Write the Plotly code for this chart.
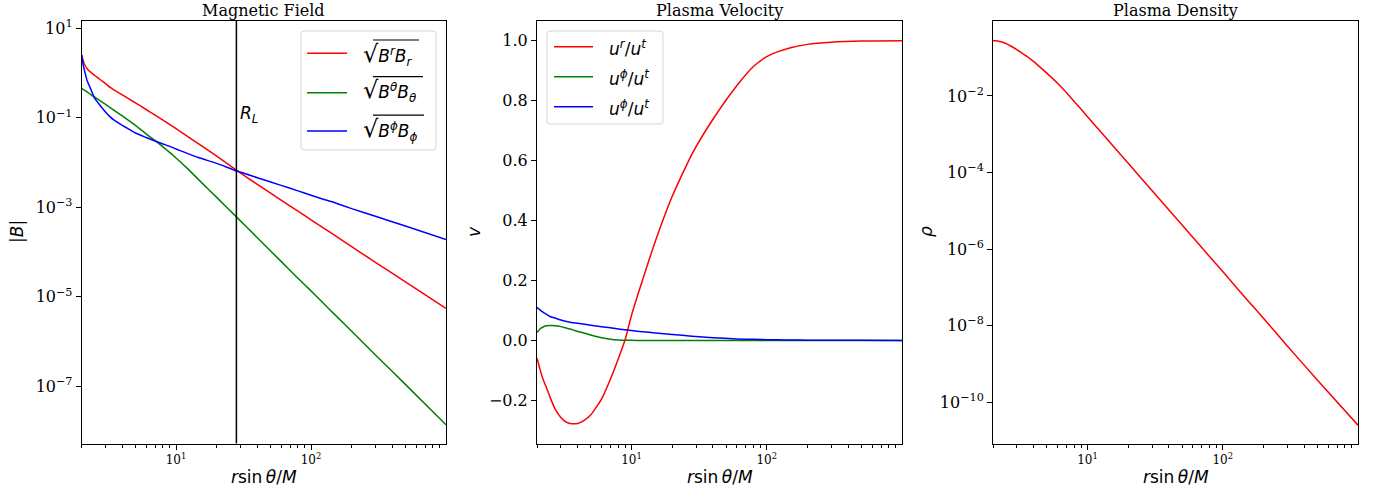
import numpy as np
import plotly.graph_objects as go

# ---------------- data ----------------
r = [2.0, 2.05, 2.1, 2.2, 2.35, 2.5, 2.75, 3.0, 3.25, 3.5, 4.0, 4.5, 5.0, 6.0, 7.0, 8.0,
     9.0, 10, 12, 15, 20, 28, 40, 60, 80, 100, 120, 150, 200, 300, 500, 1000]

# Magnetic field magnitudes
B_r = [2.51, 1.90, 1.55, 1.23, 1.02, 0.881, 0.708, 0.582, 0.476, 0.414, 0.325, 0.262,
       0.215, 0.153, 0.114, 0.0881, 0.0701, 0.0569, 0.0395, 0.0251, 0.01384, 0.00676,
       0.00324, 0.00145, 8.17e-4, 5.25e-4, 3.66e-4, 2.34e-4, 1.32e-4, 5.89e-5, 2.14e-5,
       5.5e-6]
B_theta = [0.455, 0.4335, 0.412, 0.376, 0.327, 0.288, 0.240, 0.200, 0.1687, 0.145, 0.110,
           0.0851, 0.0676, 0.0437, 0.0309, 0.0224, 0.0166, 0.0126, 0.00759, 0.00389,
           0.00166, 6.1e-4, 2.09e-4, 6.17e-5, 2.6e-5, 1.35e-5, 7.8e-6, 3.98e-6, 1.7e-6,
           5.0e-7, 1.1e-7, 1.38e-8]
B_phi = [2.51, 1.55, 1.12, 0.661, 0.417, 0.272, 0.186, 0.135, 0.1047, 0.0871, 0.0676,
         0.055, 0.0457, 0.0363, 0.0302, 0.026, 0.0229, 0.02, 0.0162, 0.0126, 0.00955,
         0.00652, 0.00457, 0.00309, 0.00232, 0.00186, 0.00155, 0.00126, 9.33e-4, 6.31e-4,
         3.8e-4, 1.91e-4]
R_L = 28

# Plasma velocity
v_r = [-0.059, -0.077, -0.095, -0.125, -0.158, -0.19, -0.233, -0.257, -0.271, -0.277,
       -0.277, -0.266, -0.248, -0.196, -0.128, -0.06, 0.005, 0.084, 0.198, 0.331, 0.481,
       0.622, 0.738, 0.85, 0.915, 0.947, 0.963, 0.977, 0.988, 0.995, 0.999, 1.0]
v_theta = [0.026, 0.032, 0.038, 0.044, 0.049, 0.05, 0.049, 0.046, 0.042, 0.038, 0.03,
           0.024, 0.018, 0.009, 0.004, 0.0015, 0.0007, 0.0003, 0.0, 0.0, 0.0, 0.0, 0.0,
           0.0, 0.0, 0.0, 0.0, 0.0, 0.0, 0.0, 0.0, 0.0]
v_phi = [0.111, 0.106, 0.102, 0.095, 0.087, 0.08, 0.074, 0.068, 0.064, 0.061, 0.057,
         0.054, 0.051, 0.046, 0.042, 0.038, 0.0355, 0.033, 0.029, 0.025, 0.020, 0.014,
         0.009, 0.005, 0.0035, 0.0025, 0.002, 0.0013, 0.0008, 0.0004, 0.0002, 0.0001]

# Plasma density
rho = [0.2786, 0.2767, 0.2742, 0.2667, 0.2529, 0.2317, 0.1950, 0.1622, 0.1334, 0.1122,
       0.0785, 0.0548, 0.0394, 0.0214, 0.01216, 0.00708, 0.0044, 0.00285, 0.00137,
       5.55e-4, 1.73e-4, 4.41e-5, 1.05e-5, 2.04e-6, 6.3e-7, 2.57e-7, 1.22e-7, 4.9e-8,
       1.55e-8, 2.95e-9, 3.8e-10, 2.51e-11]

# tick labels
x_major = [10, 100]
x_major_text = ["10<sup>1</sup>", "10<sup>2</sup>"]
x_minor = [2, 3, 4, 5, 6, 7, 8, 9, 20, 30, 40, 50, 60, 70, 80, 90,
           200, 300, 400, 500, 600, 700, 800, 900]
B_ticks = [10, 0.1, 1e-3, 1e-5, 1e-7]
B_tick_text = ["10<sup>1</sup>", "10<sup>−1</sup>", "10<sup>−3</sup>", "10<sup>−5</sup>", "10<sup>−7</sup>"]
v_ticks = [-0.2, 0.0, 0.2, 0.4, 0.6, 0.8, 1.0]
v_tick_text = ["−0.2", "0.0", "0.2", "0.4", "0.6", "0.8", "1.0"]
rho_ticks = [1e-2, 1e-4, 1e-6, 1e-8, 1e-10]
rho_tick_text = ["10<sup>−2</sup>", "10<sup>−4</sup>", "10<sup>−6</sup>", "10<sup>−8</sup>", "10<sup>−10</sup>"]

legend1_labels = ["<i>B</i><sup><i>r</i></sup><i>B</i><sub><i>r</i></sub>",
                  "<i>B</i><sup><i>θ</i></sup><i>B</i><sub><i>θ</i></sub>",
                  "<i>B</i><sup><i>ϕ</i></sup><i>B</i><sub><i>ϕ</i></sub>"]
legend2_labels = ["<i>u</i><sup><i>r</i></sup>/<i>u</i><sup><i>t</i></sup>",
                  "<i>u</i><sup><i>ϕ</i></sup>/<i>u</i><sup><i>t</i></sup>",
                  "<i>u</i><sup><i>ϕ</i></sup>/<i>u</i><sup><i>t</i></sup>"]
colors = ["red", "green", "blue"]

# ---------------- figure ----------------
W, H = 1374, 493
fig = go.Figure()

lw = 1.5
spl = dict(shape="spline", smoothing=0.5)

for ys, c in zip([B_r, B_theta, B_phi], colors):
    fig.add_trace(go.Scatter(x=r, y=ys, mode="lines", line=dict(color=c, width=lw, **spl),
                             showlegend=False, xaxis="x", yaxis="y"))
fig.add_trace(go.Scatter(x=[R_L, R_L], y=[1e-12, 1e4], mode="lines",
                         line=dict(color="black", width=1.5), showlegend=False,
                         xaxis="x", yaxis="y"))
for ys, c in zip([v_r, v_theta, v_phi], colors):
    fig.add_trace(go.Scatter(x=r, y=ys, mode="lines", line=dict(color=c, width=lw, **spl),
                             showlegend=False, xaxis="x2", yaxis="y2"))
fig.add_trace(go.Scatter(x=r, y=rho, mode="lines", line=dict(color="red", width=lw, **spl),
                         showlegend=False, xaxis="x3", yaxis="y3"))

ytop = 1 - 21 / H
ybot = 1 - 443.5 / H
doms = [(81.7, 446), (537, 902), (993, 1358)]

tickfont_x = dict(family="DejaVu Serif", size=12, color="black")
tickfont_y = dict(family="DejaVu Serif", size=16, color="black")

def xaxis(i):
    a, b = doms[i]
    return dict(type="log", range=[np.log10(2), 3], domain=[a / W, b / W],
                showline=True, mirror=True, linecolor="black", linewidth=1,
                showgrid=False, zeroline=False, ticks="outside", ticklen=5, tickwidth=1,
                tickcolor="black", tickmode="array", tickvals=x_major, ticktext=x_major_text,
                tickfont=tickfont_x, automargin=False,
                minor=dict(ticks="outside", ticklen=3, tickwidth=1, tickcolor="black",
                           tickmode="array", tickvals=x_minor, showgrid=False),
                anchor=["y", "y2", "y3"][i])

def yaxis(i, typ, rng, tv, tt):
    return dict(type=typ, range=rng, domain=[ybot, ytop], showline=True, mirror=True,
                linecolor="black", linewidth=1, showgrid=False, zeroline=False,
                ticks="outside", ticklen=5, tickwidth=1, tickcolor="black",
                tickmode="array", tickvals=tv, ticktext=tt, tickfont=tickfont_y,
                automargin=False, anchor=["x", "x2", "x3"][i])

fig.update_layout(
    width=W, height=H, margin=dict(l=0, r=0, t=0, b=0),
    paper_bgcolor="white", plot_bgcolor="white",
    xaxis=xaxis(0), xaxis2=xaxis(1), xaxis3=xaxis(2),
    yaxis=yaxis(0, "log", [-8.28, 1.163], B_ticks, B_tick_text),
    yaxis2=yaxis(1, "linear", [-0.344, 1.066], v_ticks, v_tick_text),
    yaxis3=yaxis(2, "log", [-11.08, -0.043], rho_ticks, rho_tick_text),
    showlegend=False,
)

def px(x):
    return x / W

def py(y):
    return 1 - y / H

shapes = []
ann = []

def rounded_box(x0, y0, x1, y1, rad=3):
    p = (f"M {px(x0 + rad)},{py(y0)} L {px(x1 - rad)},{py(y0)} "
         f"Q {px(x1)},{py(y0)} {px(x1)},{py(y0 + rad)} L {px(x1)},{py(y1 - rad)} "
         f"Q {px(x1)},{py(y1)} {px(x1 - rad)},{py(y1)} L {px(x0 + rad)},{py(y1)} "
         f"Q {px(x0)},{py(y1)} {px(x0)},{py(y1 - rad)} L {px(x0)},{py(y0 + rad)} "
         f"Q {px(x0)},{py(y0)} {px(x0 + rad)},{py(y0)} Z")
    return dict(type="path", path=p, xref="paper", yref="paper",
                line=dict(color="#d5d5d5", width=1), fillcolor="rgba(255,255,255,0.85)",
                layer="above")

leg_font = dict(family="DejaVu Sans", size=17, color="black")

# legend 1 (magnetic field)
shapes.append(rounded_box(301, 31, 436, 150))
for ly, ty, c, lab, ov_y, ov_end in zip([53.3, 92.7, 131.0], [54.3, 91.0, 129.5], colors,
                                        legend1_labels, [40.0, 76.7, 115.2], [419, 423, 424]):
    shapes.append(dict(type="line", xref="paper", yref="paper", x0=px(307), x1=px(347),
                       y0=py(ly), y1=py(ly), line=dict(color=c, width=lw), layer="above"))
    ann.append(dict(text="<span style='font-size:24px'>√</span>" + lab, x=px(361), y=py(ty),
                    xref="paper", yref="paper", xanchor="left", yanchor="middle",
                    showarrow=False, font=leg_font))
    shapes.append(dict(type="line", xref="paper", yref="paper", x0=px(373), x1=px(ov_end),
                       y0=py(ov_y), y1=py(ov_y), line=dict(color="black", width=1.2),
                       layer="above"))

# legend 2 (velocity)
shapes.append(rounded_box(547, 31, 663, 124))
for ly, c, lab in zip([46.7, 76.7, 106.7], colors, legend2_labels):
    shapes.append(dict(type="line", xref="paper", yref="paper", x0=px(554), x1=px(593),
                       y0=py(ly), y1=py(ly), line=dict(color=c, width=lw), layer="above"))
    ann.append(dict(text=lab, x=px(607), y=py(ly + 1), xref="paper", yref="paper",
                    xanchor="left", yanchor="middle", showarrow=False, font=leg_font))

title_font = dict(family="DejaVu Serif", size=16, color="black")
label_font = dict(family="DejaVu Sans", size=17, color="black")
for (a, b), t in zip(doms, ["Magnetic Field", "Plasma Velocity", "Plasma Density"]):
    cx = (a + b) / 2 / W
    ann.append(dict(text=t, x=cx, y=py(10), xref="paper", yref="paper",
                    xanchor="center", yanchor="middle", showarrow=False, font=title_font))
    ann.append(dict(text="<i>r</i>sin\u2009<i>θ</i>/<i>M</i>", x=cx, y=py(477),
                    xref="paper", yref="paper", xanchor="center", yanchor="middle",
                    showarrow=False, font=label_font))
for xpx, t in [(17, "|<i>B</i>|"), (474, "<i>v</i>"), (926, "<i>ρ</i>")]:
    ann.append(dict(text=t, x=px(xpx), y=py(232), xref="paper", yref="paper",
                    xanchor="center", yanchor="middle", textangle=-90, showarrow=False,
                    font=label_font))
ann.append(dict(text="<i>R</i><sub><i>L</i></sub>", x=np.log10(R_L), y=np.log10(0.12),
                xref="x", yref="y", xanchor="left", yanchor="middle", xshift=2,
                showarrow=False, font=dict(family="DejaVu Sans", size=17, color="black")))
fig.update_layout(annotations=ann, shapes=shapes)

fig.write_html("out.html", config={"displayModeBar": False},
               post_script="document.body.style.margin='0px';")
